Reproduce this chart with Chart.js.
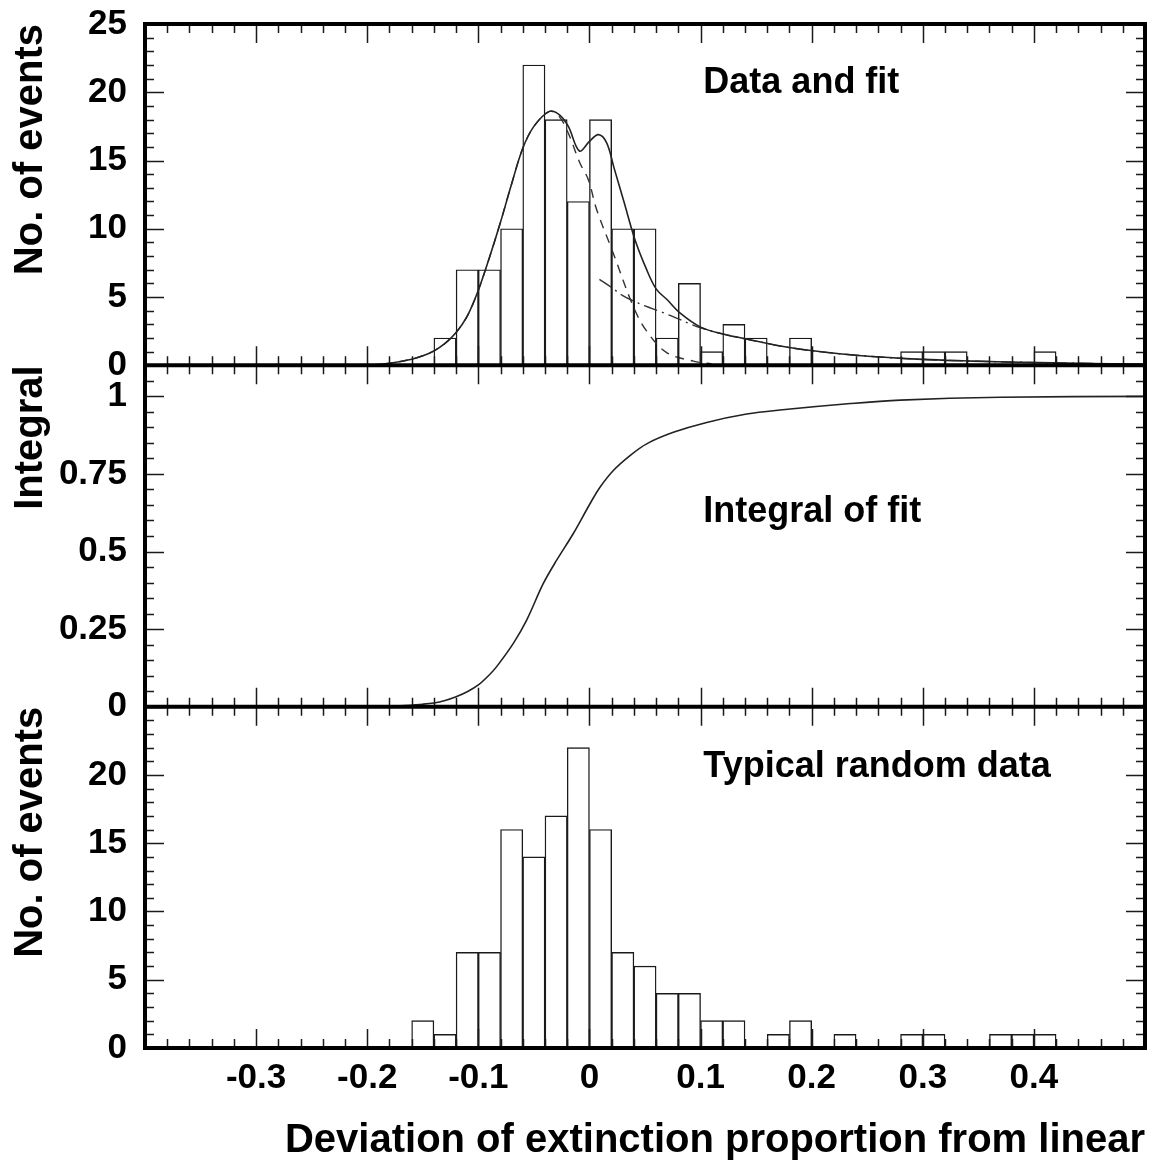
<!DOCTYPE html>
<html>
<head>
<meta charset="utf-8">
<script src="https://cdn.jsdelivr.net/npm/chart.js@4.4.1/dist/chart.umd.min.js"></script>
<style>
html,body{margin:0;padding:0;background:#fff;}
#wrap{width:1150px;height:1165px;position:relative;}
</style>
</head>
<body>
<div id="wrap"><canvas id="c" width="1150" height="1165"></canvas></div>
<script>
// ---------- data ----------
const binCenters = [-0.15,-0.13,-0.11,-0.09,-0.07,-0.05,-0.03,-0.01,0.01,0.03,0.05,0.07,0.09,0.11,0.13,0.15,0.17,0.19,0.21,0.23,0.25,0.27,0.29,0.31,0.33,0.35,0.37,0.39,0.41];
const dataCounts   = [0,2,7,7,10,22,18,12,18,10,10,2,6,1,3,2,0,2,0,0,0,0,1,1,1,0,0,0,1];
const randomCounts = [2,1,7,7,16,14,17,22,16,7,6,4,4,2,2,0,1,2,0,1,0,0,1,1,0,0,1,1,1];

const fitX = [-0.2,-0.18,-0.16,-0.15,-0.14,-0.13,-0.12,-0.11,-0.10,-0.09,-0.08,-0.07,-0.06,-0.05,-0.036,-0.027,-0.019,-0.009,0.0,0.008,0.0155,0.022,0.031,0.041,0.051,0.06,0.07,0.082,0.10,0.12,0.14,0.18,0.225,0.285,0.345,0.405,0.5];
const fitY = [0,0.15,0.45,0.7,1.05,1.6,2.4,3.6,5.5,7.9,10.5,13.3,15.9,17.5,18.6,18.35,17.5,15.7,16.4,16.9,16.3,14.5,12.0,9.2,7.1,5.6,4.8,3.8,2.8,2.3,1.95,1.3,0.85,0.49,0.31,0.2,0.07];

const gaussX = [-0.2,-0.18,-0.16,-0.15,-0.14,-0.13,-0.12,-0.11,-0.10,-0.09,-0.08,-0.07,-0.06,-0.05,-0.036,-0.027,-0.019,-0.0085,-0.001,0.0065,0.0215,0.0395,0.0515,0.0695,0.0935,0.11];
const gaussY = [0,0.15,0.45,0.7,1.05,1.6,2.4,3.6,5.5,7.9,10.5,13.3,15.9,17.5,18.6,18.2,17.0,14.8,13.6,11.4,8.2,4.3,2.5,0.93,0.31,0.1];

const tailX = [0.009,0.02,0.03,0.04,0.05,0.065,0.08,0.09,0.10,0.12,0.14,0.18,0.225,0.285,0.345,0.405,0.5];
const tailY = [6.3,5.7,5.1,4.7,4.35,3.9,3.4,3.05,2.75,2.3,1.95,1.3,0.85,0.49,0.31,0.2,0.07];

const integralX = [-0.2,-0.17,-0.15,-0.14,-0.13,-0.12,-0.11,-0.10,-0.09,-0.0835,-0.0685,-0.0565,-0.0415,-0.0295,-0.0145,0.0005,0.0095,0.0215,0.0365,0.0515,0.0755,0.1055,0.1415,0.1715,0.235,0.28,0.37,0.5];
const integralY = [0,0.003,0.008,0.012,0.02,0.032,0.048,0.07,0.103,0.129,0.204,0.279,0.397,0.472,0.558,0.654,0.707,0.761,0.809,0.847,0.884,0.916,0.943,0.956,0.977,0.988,0.997,1.0];

const panelLabels = ['Data and fit', 'Integral of fit', 'Typical random data'];
const yTitles = ['No. of events', 'Integral', 'No. of events'];
const xTitle = 'Deviation of extinction proportion from linear';

// ---------- helpers ----------
const pts = (xs, ys) => xs.map((x, i) => ({x: x, y: ys[i]}));
const FAM = "'Liberation Sans', Arial, Helvetica, sans-serif";
const INK = '#1a1a1a';

const frameTicks = {
  id: 'frameTicks',
  afterDatasetsDraw(chart) {
    const ctx = chart.ctx, xs = chart.scales.x, ca = chart.chartArea;
    const panels = [
      {s: chart.scales.yTop, minor: 1, every: 5},
      {s: chart.scales.yMid, minor: 0.05, every: 5},
      {s: chart.scales.yBot, minor: 1, every: 5}
    ];
    const L = ca.left, R = ca.right;
    ctx.save();
    ctx.strokeStyle = INK;
    ctx.lineWidth = 1.5;
    ctx.beginPath();
    for (const p of panels) {
      const top = p.s.top, bot = p.s.bottom;
      for (let i = 0; i <= 45; i++) {
        const v = xs.min + i * 0.02;
        const px = Math.round(xs.getPixelForValue(v)) + 0.5;
        const len = (i % 5 === 0) ? 19 : 9;
        ctx.moveTo(px, bot); ctx.lineTo(px, bot - len);
        ctx.moveTo(px, top); ctx.lineTo(px, top + len);
      }
      const n = Math.round((p.s.max - p.s.min) / p.minor);
      for (let j = 0; j <= n; j++) {
        const v = p.s.min + j * p.minor;
        const py = Math.round(p.s.getPixelForValue(v)) + 0.5;
        const len = (j % p.every === 0) ? 19 : 9;
        ctx.moveTo(L, py); ctx.lineTo(L + len, py);
        ctx.moveTo(R, py); ctx.lineTo(R - len, py);
      }
    }
    ctx.stroke();
    ctx.strokeStyle = '#000';
    ctx.lineWidth = 4;
    ctx.beginPath();
    ctx.rect(L, ca.top, R - L, ca.bottom - ca.top);
    ctx.moveTo(L, chart.scales.yMid.top); ctx.lineTo(R, chart.scales.yMid.top);
    ctx.moveTo(L, chart.scales.yBot.top); ctx.lineTo(R, chart.scales.yBot.top);
    ctx.stroke();
    ctx.restore();
  }
};

const panelText = {
  id: 'panelText',
  afterDraw(chart) {
    const ctx = chart.ctx, xs = chart.scales.x;
    const scales = [chart.scales.yTop, chart.scales.yMid, chart.scales.yBot];
    const baseOff = [69, 157, 70];
    ctx.save();
    ctx.fillStyle = '#000';
    ctx.font = "bold 36px " + FAM;
    ctx.textAlign = 'left';
    ctx.textBaseline = 'alphabetic';
    const x0 = xs.getPixelForValue(0.1025);
    scales.forEach((s, i) => {
      ctx.fillText(panelLabels[i], x0, s.top + baseOff[i]);
    });
    ctx.restore();
  }
};

function yAxis(title, min, max, step, weight, labelFn) {
  return {
    type: 'linear', position: 'left', stack: 'panels', stackWeight: 1, weight: weight,
    min: min, max: max, offset: false,
    grid: {display: false, drawTicks: false},
    border: {display: false},
    ticks: {
      stepSize: step, padding: 18, color: '#000', autoSkip: false, includeBounds: false,
      font: {family: FAM, size: 35, weight: 'bold'},
      callback: labelFn
    },
    title: {
      display: true, text: title, align: 'end', color: '#000',
      font: {family: FAM, size: 40, weight: 'bold'},
      padding: {top: 7, bottom: 0}
    },
    afterFit(s) { s.width = 145; s.paddingTop = 0; s.paddingBottom = 0; }
  };
}

const countLabel = (v) => (Math.abs(v - Math.round(v / 5) * 5) < 1e-6 && v <= 25.0001) ? String(Math.round(v)) : '';
const countLabelNoTop = (v) => (v > 24.5) ? '' : countLabel(v);
const intLabel = (v) => (Math.abs(v * 4 - Math.round(v * 4)) < 1e-6 && v <= 1.0001) ? String(Math.round(v * 100) / 100) : '';

const lineCommon = {pointRadius: 0, tension: 0.35, fill: false};

new Chart(document.getElementById('c'), {
  type: 'line',
  data: {
    datasets: [
      {type: 'bar', data: pts(binCenters, dataCounts), yAxisID: 'yTop', order: 3,
       backgroundColor: '#fff', borderColor: INK, borderWidth: 1.4, borderSkipped: 'start',
       barPercentage: 1, categoryPercentage: 1, grouped: false},
      {type: 'bar', data: pts(binCenters, randomCounts), yAxisID: 'yBot', order: 3,
       backgroundColor: '#fff', borderColor: INK, borderWidth: 1.4, borderSkipped: 'start',
       barPercentage: 1, categoryPercentage: 1, grouped: false},
      Object.assign({type: 'line', data: pts(gaussX, gaussY), yAxisID: 'yTop', order: 2,
       borderColor: '#333', borderWidth: 1.4, borderDash: [9, 7]}, lineCommon),
      Object.assign({type: 'line', data: pts(tailX, tailY), yAxisID: 'yTop', order: 2,
       borderColor: '#333', borderWidth: 1.4, borderDash: [14, 5, 2, 5]}, lineCommon),
      Object.assign({type: 'line', data: pts(fitX, fitY), yAxisID: 'yTop', order: 1,
       borderColor: '#222', borderWidth: 1.6}, lineCommon),
      Object.assign({type: 'line', data: pts(integralX, integralY), yAxisID: 'yMid', order: 1,
       borderColor: '#222', borderWidth: 1.6}, lineCommon)
    ]
  },
  options: {
    responsive: false, animation: false, devicePixelRatio: 1,
    layout: {padding: {left: 0, right: 5, top: 24, bottom: 0}},
    plugins: {legend: {display: false}, tooltip: {enabled: false}, title: {display: false}},
    scales: {
      x: {
        type: 'linear', position: 'bottom', min: -0.4, max: 0.5, offset: false,
        grid: {display: false, drawTicks: false},
        border: {display: false},
        ticks: {
          stepSize: 0.1, padding: 9, color: '#000', autoSkip: false, maxRotation: 0,
          font: {family: FAM, size: 35, weight: 'bold'},
          callback: (v) => (v < -0.35 || v > 0.45) ? '' : String(Math.round(v * 10) / 10)
        },
        title: {
          display: true, text: xTitle, align: 'end', color: '#000',
          font: {family: FAM, size: 40, weight: 'bold'},
          padding: {top: 0, bottom: 0}
        },
        afterFit(s) { s.height = 117; s.paddingLeft = 0; s.paddingRight = 0; }
      },
      yTop: yAxis(yTitles[0], 0, 25, 5, 3, countLabel),
      yMid: yAxis(yTitles[1], 0, 1.1, 0.25, 2, intLabel),
      yBot: yAxis(yTitles[2], 0, 25, 5, 1, countLabelNoTop)
    }
  },
  plugins: [frameTicks, panelText]
});
</script>
</body>
</html>
